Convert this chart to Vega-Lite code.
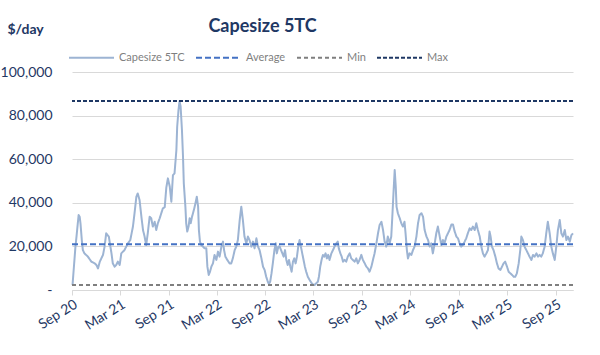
{
  "$schema": "https://vega.github.io/schema/vega-lite/v6.json",
  "width": 501,
  "height": 218,
  "autosize": "none",
  "padding": {"left": 72, "top": 72, "right": 27, "bottom": 65},
  "background": "white",
  "config": {"font": "Lato", "view": {"stroke": null}},
  "title": {"text": "Capesize 5TC", "fontSize": 18, "fontWeight": "bold", "color": "#1F3864", "anchor": "middle", "dx": -60, "offset": -14},
  "datasets": {
    "rates": [
      {"d":"2020-09-03","v":2300,"s":"Capesize 5TC"},{"d":"2020-09-14","v":19900,"s":"Capesize 5TC"},{"d":"2020-09-18","v":24500,"s":"Capesize 5TC"},{"d":"2020-09-26","v":34400,"s":"Capesize 5TC"},{"d":"2020-09-30","v":33600,"s":"Capesize 5TC"},{"d":"2020-10-03","v":30600,"s":"Capesize 5TC"},{"d":"2020-10-08","v":22900,"s":"Capesize 5TC"},{"d":"2020-10-12","v":18300,"s":"Capesize 5TC"},{"d":"2020-10-18","v":16800,"s":"Capesize 5TC"},{"d":"2020-10-31","v":15300,"s":"Capesize 5TC"},{"d":"2020-11-13","v":13000,"s":"Capesize 5TC"},{"d":"2020-11-26","v":12200,"s":"Capesize 5TC"},{"d":"2020-12-02","v":11500,"s":"Capesize 5TC"},{"d":"2020-12-08","v":9900,"s":"Capesize 5TC"},{"d":"2020-12-15","v":13000,"s":"Capesize 5TC"},{"d":"2020-12-27","v":16100,"s":"Capesize 5TC"},
      {"d":"2021-01-02","v":19900,"s":"Capesize 5TC"},{"d":"2021-01-08","v":26000,"s":"Capesize 5TC"},{"d":"2021-01-18","v":24500,"s":"Capesize 5TC"},{"d":"2021-01-24","v":19900,"s":"Capesize 5TC"},{"d":"2021-01-28","v":16800,"s":"Capesize 5TC"},{"d":"2021-02-02","v":12200,"s":"Capesize 5TC"},{"d":"2021-02-09","v":10700,"s":"Capesize 5TC"},{"d":"2021-02-15","v":11500,"s":"Capesize 5TC"},{"d":"2021-02-21","v":13000,"s":"Capesize 5TC"},{"d":"2021-02-28","v":11500,"s":"Capesize 5TC"},{"d":"2021-03-06","v":16800,"s":"Capesize 5TC"},{"d":"2021-03-18","v":18300,"s":"Capesize 5TC"},{"d":"2021-03-31","v":21400,"s":"Capesize 5TC"},{"d":"2021-04-09","v":22900,"s":"Capesize 5TC"},{"d":"2021-04-19","v":29100,"s":"Capesize 5TC"},{"d":"2021-04-25","v":35200,"s":"Capesize 5TC"},{"d":"2021-05-02","v":42800,"s":"Capesize 5TC"},{"d":"2021-05-07","v":44300,"s":"Capesize 5TC"},{"d":"2021-05-14","v":41300,"s":"Capesize 5TC"},{"d":"2021-05-21","v":33600,"s":"Capesize 5TC"},{"d":"2021-05-27","v":27500,"s":"Capesize 5TC"},{"d":"2021-06-02","v":24500,"s":"Capesize 5TC"},{"d":"2021-06-08","v":20600,"s":"Capesize 5TC"},{"d":"2021-06-14","v":26000,"s":"Capesize 5TC"},{"d":"2021-06-21","v":33600,"s":"Capesize 5TC"},{"d":"2021-06-27","v":32900,"s":"Capesize 5TC"},{"d":"2021-07-03","v":29100,"s":"Capesize 5TC"},{"d":"2021-07-10","v":31300,"s":"Capesize 5TC"},{"d":"2021-07-16","v":27500,"s":"Capesize 5TC"},{"d":"2021-07-22","v":30600,"s":"Capesize 5TC"},{"d":"2021-07-29","v":32900,"s":"Capesize 5TC"},{"d":"2021-08-04","v":35200,"s":"Capesize 5TC"},{"d":"2021-08-10","v":37500,"s":"Capesize 5TC"},{"d":"2021-08-17","v":38000,"s":"Capesize 5TC"},{"d":"2021-08-23","v":47000,"s":"Capesize 5TC"},{"d":"2021-08-29","v":51200,"s":"Capesize 5TC"},{"d":"2021-09-05","v":47400,"s":"Capesize 5TC"},{"d":"2021-09-11","v":40500,"s":"Capesize 5TC"},{"d":"2021-09-17","v":52700,"s":"Capesize 5TC"},{"d":"2021-09-23","v":53500,"s":"Capesize 5TC"},{"d":"2021-09-30","v":64200,"s":"Capesize 5TC"},{"d":"2021-10-03","v":74900,"s":"Capesize 5TC"},{"d":"2021-10-08","v":82600,"s":"Capesize 5TC"},{"d":"2021-10-12","v":86700,"s":"Capesize 5TC"},{"d":"2021-10-16","v":84100,"s":"Capesize 5TC"},{"d":"2021-10-21","v":73400,"s":"Capesize 5TC"},{"d":"2021-10-25","v":61200,"s":"Capesize 5TC"},{"d":"2021-10-28","v":48900,"s":"Capesize 5TC"},{"d":"2021-11-03","v":38200,"s":"Capesize 5TC"},{"d":"2021-11-06","v":30600,"s":"Capesize 5TC"},{"d":"2021-11-10","v":26800,"s":"Capesize 5TC"},{"d":"2021-11-15","v":29100,"s":"Capesize 5TC"},{"d":"2021-11-19","v":32900,"s":"Capesize 5TC"},{"d":"2021-11-23","v":30600,"s":"Capesize 5TC"},{"d":"2021-11-28","v":33600,"s":"Capesize 5TC"},{"d":"2021-12-05","v":36700,"s":"Capesize 5TC"},{"d":"2021-12-11","v":39800,"s":"Capesize 5TC"},{"d":"2021-12-16","v":42800,"s":"Capesize 5TC"},{"d":"2021-12-21","v":38200,"s":"Capesize 5TC"},{"d":"2021-12-24","v":27500,"s":"Capesize 5TC"},{"d":"2021-12-28","v":22200,"s":"Capesize 5TC"},
      {"d":"2022-01-02","v":20600,"s":"Capesize 5TC"},{"d":"2022-01-08","v":19900,"s":"Capesize 5TC"},{"d":"2022-01-15","v":19100,"s":"Capesize 5TC"},{"d":"2022-01-21","v":19100,"s":"Capesize 5TC"},{"d":"2022-01-25","v":10700,"s":"Capesize 5TC"},{"d":"2022-01-30","v":6900,"s":"Capesize 5TC"},{"d":"2022-02-04","v":8400,"s":"Capesize 5TC"},{"d":"2022-02-09","v":10700,"s":"Capesize 5TC"},{"d":"2022-02-15","v":12200,"s":"Capesize 5TC"},{"d":"2022-02-21","v":16100,"s":"Capesize 5TC"},{"d":"2022-02-28","v":13800,"s":"Capesize 5TC"},{"d":"2022-03-06","v":17600,"s":"Capesize 5TC"},{"d":"2022-03-12","v":15300,"s":"Capesize 5TC"},{"d":"2022-03-19","v":19900,"s":"Capesize 5TC"},{"d":"2022-03-25","v":22200,"s":"Capesize 5TC"},{"d":"2022-03-29","v":18300,"s":"Capesize 5TC"},{"d":"2022-04-03","v":15300,"s":"Capesize 5TC"},{"d":"2022-04-10","v":13800,"s":"Capesize 5TC"},{"d":"2022-04-19","v":12200,"s":"Capesize 5TC"},{"d":"2022-04-25","v":12200,"s":"Capesize 5TC"},{"d":"2022-05-01","v":14500,"s":"Capesize 5TC"},{"d":"2022-05-08","v":18300,"s":"Capesize 5TC"},{"d":"2022-05-14","v":19900,"s":"Capesize 5TC"},{"d":"2022-05-20","v":22900,"s":"Capesize 5TC"},{"d":"2022-05-27","v":32100,"s":"Capesize 5TC"},{"d":"2022-06-02","v":38200,"s":"Capesize 5TC"},{"d":"2022-06-08","v":32100,"s":"Capesize 5TC"},{"d":"2022-06-14","v":24500,"s":"Capesize 5TC"},{"d":"2022-06-21","v":21400,"s":"Capesize 5TC"},{"d":"2022-06-27","v":24500,"s":"Capesize 5TC"},{"d":"2022-07-03","v":22900,"s":"Capesize 5TC"},{"d":"2022-07-10","v":19900,"s":"Capesize 5TC"},{"d":"2022-07-16","v":22200,"s":"Capesize 5TC"},{"d":"2022-07-22","v":19100,"s":"Capesize 5TC"},{"d":"2022-07-29","v":23700,"s":"Capesize 5TC"},{"d":"2022-08-04","v":19900,"s":"Capesize 5TC"},{"d":"2022-08-10","v":18300,"s":"Capesize 5TC"},{"d":"2022-08-17","v":14500,"s":"Capesize 5TC"},{"d":"2022-08-23","v":10700,"s":"Capesize 5TC"},{"d":"2022-08-29","v":9200,"s":"Capesize 5TC"},{"d":"2022-09-04","v":6100,"s":"Capesize 5TC"},{"d":"2022-09-10","v":3800,"s":"Capesize 5TC"},{"d":"2022-09-14","v":2800,"s":"Capesize 5TC"},{"d":"2022-09-19","v":3800,"s":"Capesize 5TC"},{"d":"2022-09-24","v":7600,"s":"Capesize 5TC"},{"d":"2022-09-29","v":12200,"s":"Capesize 5TC"},{"d":"2022-10-05","v":18300,"s":"Capesize 5TC"},{"d":"2022-10-10","v":21400,"s":"Capesize 5TC"},{"d":"2022-10-14","v":16800,"s":"Capesize 5TC"},{"d":"2022-10-20","v":19900,"s":"Capesize 5TC"},{"d":"2022-10-25","v":19900,"s":"Capesize 5TC"},{"d":"2022-10-30","v":18300,"s":"Capesize 5TC"},{"d":"2022-11-04","v":16800,"s":"Capesize 5TC"},{"d":"2022-11-09","v":15300,"s":"Capesize 5TC"},{"d":"2022-11-14","v":18300,"s":"Capesize 5TC"},{"d":"2022-11-19","v":13800,"s":"Capesize 5TC"},{"d":"2022-11-24","v":11500,"s":"Capesize 5TC"},{"d":"2022-11-29","v":13800,"s":"Capesize 5TC"},{"d":"2022-12-04","v":10700,"s":"Capesize 5TC"},{"d":"2022-12-09","v":8400,"s":"Capesize 5TC"},{"d":"2022-12-14","v":13000,"s":"Capesize 5TC"},{"d":"2022-12-19","v":14500,"s":"Capesize 5TC"},{"d":"2022-12-24","v":12200,"s":"Capesize 5TC"},{"d":"2022-12-29","v":15300,"s":"Capesize 5TC"},
      {"d":"2023-01-03","v":19900,"s":"Capesize 5TC"},{"d":"2023-01-08","v":22900,"s":"Capesize 5TC"},{"d":"2023-01-13","v":19900,"s":"Capesize 5TC"},{"d":"2023-01-18","v":16800,"s":"Capesize 5TC"},{"d":"2023-01-23","v":13800,"s":"Capesize 5TC"},{"d":"2023-01-28","v":10700,"s":"Capesize 5TC"},{"d":"2023-02-02","v":8400,"s":"Capesize 5TC"},{"d":"2023-02-08","v":6100,"s":"Capesize 5TC"},{"d":"2023-02-15","v":4600,"s":"Capesize 5TC"},{"d":"2023-02-21","v":3400,"s":"Capesize 5TC"},{"d":"2023-02-27","v":2600,"s":"Capesize 5TC"},{"d":"2023-03-06","v":2300,"s":"Capesize 5TC"},{"d":"2023-03-12","v":3100,"s":"Capesize 5TC"},{"d":"2023-03-18","v":3800,"s":"Capesize 5TC"},{"d":"2023-03-22","v":6100,"s":"Capesize 5TC"},{"d":"2023-03-27","v":10700,"s":"Capesize 5TC"},{"d":"2023-04-01","v":13800,"s":"Capesize 5TC"},{"d":"2023-04-06","v":16100,"s":"Capesize 5TC"},{"d":"2023-04-11","v":15300,"s":"Capesize 5TC"},{"d":"2023-04-16","v":16800,"s":"Capesize 5TC"},{"d":"2023-04-21","v":14500,"s":"Capesize 5TC"},{"d":"2023-04-26","v":16100,"s":"Capesize 5TC"},{"d":"2023-05-01","v":13800,"s":"Capesize 5TC"},{"d":"2023-05-08","v":16800,"s":"Capesize 5TC"},{"d":"2023-05-14","v":18300,"s":"Capesize 5TC"},{"d":"2023-05-20","v":19900,"s":"Capesize 5TC"},{"d":"2023-05-27","v":21400,"s":"Capesize 5TC"},{"d":"2023-06-01","v":22200,"s":"Capesize 5TC"},{"d":"2023-06-05","v":19100,"s":"Capesize 5TC"},{"d":"2023-06-11","v":16800,"s":"Capesize 5TC"},{"d":"2023-06-16","v":15300,"s":"Capesize 5TC"},{"d":"2023-06-21","v":13000,"s":"Capesize 5TC"},{"d":"2023-06-27","v":13800,"s":"Capesize 5TC"},{"d":"2023-07-03","v":13000,"s":"Capesize 5TC"},{"d":"2023-07-09","v":15300,"s":"Capesize 5TC"},{"d":"2023-07-16","v":16800,"s":"Capesize 5TC"},{"d":"2023-07-22","v":14500,"s":"Capesize 5TC"},{"d":"2023-07-28","v":13800,"s":"Capesize 5TC"},{"d":"2023-08-04","v":13000,"s":"Capesize 5TC"},{"d":"2023-08-10","v":14500,"s":"Capesize 5TC"},{"d":"2023-08-16","v":12200,"s":"Capesize 5TC"},{"d":"2023-08-23","v":14000,"s":"Capesize 5TC"},{"d":"2023-08-29","v":16100,"s":"Capesize 5TC"},{"d":"2023-09-04","v":13800,"s":"Capesize 5TC"},{"d":"2023-09-11","v":12200,"s":"Capesize 5TC"},{"d":"2023-09-17","v":10700,"s":"Capesize 5TC"},{"d":"2023-09-23","v":9900,"s":"Capesize 5TC"},{"d":"2023-09-29","v":8400,"s":"Capesize 5TC"},{"d":"2023-10-06","v":10700,"s":"Capesize 5TC"},{"d":"2023-10-12","v":13800,"s":"Capesize 5TC"},{"d":"2023-10-18","v":16800,"s":"Capesize 5TC"},{"d":"2023-10-25","v":21400,"s":"Capesize 5TC"},{"d":"2023-10-31","v":26000,"s":"Capesize 5TC"},{"d":"2023-11-06","v":29800,"s":"Capesize 5TC"},{"d":"2023-11-13","v":31300,"s":"Capesize 5TC"},{"d":"2023-11-19","v":27500,"s":"Capesize 5TC"},{"d":"2023-11-25","v":22200,"s":"Capesize 5TC"},{"d":"2023-12-01","v":19900,"s":"Capesize 5TC"},{"d":"2023-12-07","v":24500,"s":"Capesize 5TC"},{"d":"2023-12-14","v":21400,"s":"Capesize 5TC"},{"d":"2023-12-20","v":24500,"s":"Capesize 5TC"},{"d":"2023-12-24","v":33600,"s":"Capesize 5TC"},{"d":"2023-12-29","v":45900,"s":"Capesize 5TC"},
      {"d":"2024-01-02","v":55000,"s":"Capesize 5TC"},{"d":"2024-01-06","v":47400,"s":"Capesize 5TC"},{"d":"2024-01-09","v":38200,"s":"Capesize 5TC"},{"d":"2024-01-14","v":35200,"s":"Capesize 5TC"},{"d":"2024-01-21","v":32900,"s":"Capesize 5TC"},{"d":"2024-01-27","v":30600,"s":"Capesize 5TC"},{"d":"2024-02-02","v":29100,"s":"Capesize 5TC"},{"d":"2024-02-08","v":31300,"s":"Capesize 5TC"},{"d":"2024-02-12","v":26000,"s":"Capesize 5TC"},{"d":"2024-02-17","v":18300,"s":"Capesize 5TC"},{"d":"2024-02-21","v":14500,"s":"Capesize 5TC"},{"d":"2024-02-27","v":16800,"s":"Capesize 5TC"},{"d":"2024-03-05","v":16100,"s":"Capesize 5TC"},{"d":"2024-03-11","v":18300,"s":"Capesize 5TC"},{"d":"2024-03-17","v":19900,"s":"Capesize 5TC"},{"d":"2024-03-24","v":24500,"s":"Capesize 5TC"},{"d":"2024-03-30","v":30600,"s":"Capesize 5TC"},{"d":"2024-04-05","v":34400,"s":"Capesize 5TC"},{"d":"2024-04-12","v":35200,"s":"Capesize 5TC"},{"d":"2024-04-18","v":33600,"s":"Capesize 5TC"},{"d":"2024-04-24","v":27500,"s":"Capesize 5TC"},{"d":"2024-05-01","v":24500,"s":"Capesize 5TC"},{"d":"2024-05-07","v":22900,"s":"Capesize 5TC"},{"d":"2024-05-13","v":19900,"s":"Capesize 5TC"},{"d":"2024-05-19","v":21400,"s":"Capesize 5TC"},{"d":"2024-05-25","v":16800,"s":"Capesize 5TC"},{"d":"2024-06-01","v":21400,"s":"Capesize 5TC"},{"d":"2024-06-07","v":26000,"s":"Capesize 5TC"},{"d":"2024-06-13","v":29100,"s":"Capesize 5TC"},{"d":"2024-06-20","v":24500,"s":"Capesize 5TC"},{"d":"2024-06-26","v":20600,"s":"Capesize 5TC"},{"d":"2024-07-02","v":22900,"s":"Capesize 5TC"},{"d":"2024-07-08","v":21400,"s":"Capesize 5TC"},{"d":"2024-07-15","v":24500,"s":"Capesize 5TC"},{"d":"2024-07-21","v":26000,"s":"Capesize 5TC"},{"d":"2024-07-27","v":27500,"s":"Capesize 5TC"},{"d":"2024-08-03","v":30000,"s":"Capesize 5TC"},{"d":"2024-08-09","v":30000,"s":"Capesize 5TC"},{"d":"2024-08-15","v":27000,"s":"Capesize 5TC"},{"d":"2024-08-22","v":24500,"s":"Capesize 5TC"},{"d":"2024-08-28","v":23700,"s":"Capesize 5TC"},{"d":"2024-09-03","v":21400,"s":"Capesize 5TC"},{"d":"2024-09-09","v":19900,"s":"Capesize 5TC"},{"d":"2024-09-15","v":20600,"s":"Capesize 5TC"},{"d":"2024-09-22","v":22200,"s":"Capesize 5TC"},{"d":"2024-09-28","v":23700,"s":"Capesize 5TC"},{"d":"2024-10-04","v":26000,"s":"Capesize 5TC"},{"d":"2024-10-11","v":28300,"s":"Capesize 5TC"},{"d":"2024-10-17","v":27500,"s":"Capesize 5TC"},{"d":"2024-10-23","v":29100,"s":"Capesize 5TC"},{"d":"2024-10-30","v":27500,"s":"Capesize 5TC"},{"d":"2024-11-05","v":30600,"s":"Capesize 5TC"},{"d":"2024-11-11","v":27500,"s":"Capesize 5TC"},{"d":"2024-11-18","v":24500,"s":"Capesize 5TC"},{"d":"2024-11-24","v":19900,"s":"Capesize 5TC"},{"d":"2024-11-30","v":16800,"s":"Capesize 5TC"},{"d":"2024-12-06","v":15300,"s":"Capesize 5TC"},{"d":"2024-12-13","v":16800,"s":"Capesize 5TC"},{"d":"2024-12-19","v":18300,"s":"Capesize 5TC"},{"d":"2024-12-25","v":26800,"s":"Capesize 5TC"},{"d":"2024-12-29","v":24500,"s":"Capesize 5TC"},
      {"d":"2025-01-03","v":19900,"s":"Capesize 5TC"},{"d":"2025-01-09","v":18300,"s":"Capesize 5TC"},{"d":"2025-01-16","v":15300,"s":"Capesize 5TC"},{"d":"2025-01-22","v":12200,"s":"Capesize 5TC"},{"d":"2025-01-28","v":9900,"s":"Capesize 5TC"},{"d":"2025-02-04","v":9200,"s":"Capesize 5TC"},{"d":"2025-02-10","v":10700,"s":"Capesize 5TC"},{"d":"2025-02-16","v":12200,"s":"Capesize 5TC"},{"d":"2025-02-22","v":13000,"s":"Capesize 5TC"},{"d":"2025-03-01","v":10700,"s":"Capesize 5TC"},{"d":"2025-03-07","v":8400,"s":"Capesize 5TC"},{"d":"2025-03-14","v":7600,"s":"Capesize 5TC"},{"d":"2025-03-20","v":6900,"s":"Capesize 5TC"},{"d":"2025-03-26","v":6100,"s":"Capesize 5TC"},{"d":"2025-04-01","v":6100,"s":"Capesize 5TC"},{"d":"2025-04-07","v":7600,"s":"Capesize 5TC"},{"d":"2025-04-14","v":12200,"s":"Capesize 5TC"},{"d":"2025-04-20","v":18300,"s":"Capesize 5TC"},{"d":"2025-04-24","v":24500,"s":"Capesize 5TC"},{"d":"2025-04-30","v":22900,"s":"Capesize 5TC"},{"d":"2025-05-06","v":19900,"s":"Capesize 5TC"},{"d":"2025-05-13","v":18300,"s":"Capesize 5TC"},{"d":"2025-05-19","v":16800,"s":"Capesize 5TC"},{"d":"2025-05-25","v":15300,"s":"Capesize 5TC"},{"d":"2025-06-01","v":13800,"s":"Capesize 5TC"},{"d":"2025-06-07","v":16100,"s":"Capesize 5TC"},{"d":"2025-06-13","v":15300,"s":"Capesize 5TC"},{"d":"2025-06-20","v":16800,"s":"Capesize 5TC"},{"d":"2025-06-26","v":15300,"s":"Capesize 5TC"},{"d":"2025-07-02","v":16100,"s":"Capesize 5TC"},{"d":"2025-07-08","v":15300,"s":"Capesize 5TC"},{"d":"2025-07-14","v":16800,"s":"Capesize 5TC"},{"d":"2025-07-21","v":19900,"s":"Capesize 5TC"},{"d":"2025-07-27","v":26000,"s":"Capesize 5TC"},{"d":"2025-08-02","v":31300,"s":"Capesize 5TC"},{"d":"2025-08-09","v":26000,"s":"Capesize 5TC"},{"d":"2025-08-15","v":19900,"s":"Capesize 5TC"},{"d":"2025-08-21","v":16800,"s":"Capesize 5TC"},{"d":"2025-08-28","v":13800,"s":"Capesize 5TC"},{"d":"2025-09-03","v":19900,"s":"Capesize 5TC"},{"d":"2025-09-09","v":27500,"s":"Capesize 5TC"},{"d":"2025-09-16","v":32100,"s":"Capesize 5TC"},{"d":"2025-09-22","v":26000,"s":"Capesize 5TC"},{"d":"2025-09-28","v":24500,"s":"Capesize 5TC"},{"d":"2025-10-05","v":27500,"s":"Capesize 5TC"},{"d":"2025-10-11","v":22900,"s":"Capesize 5TC"},{"d":"2025-10-17","v":24500,"s":"Capesize 5TC"},{"d":"2025-10-24","v":22200,"s":"Capesize 5TC"},{"d":"2025-10-30","v":25200,"s":"Capesize 5TC"},{"d":"2025-11-05","v":26000,"s":"Capesize 5TC"}
    ],
    "refs": [
      {"s": "Average", "v": 20960},
      {"s": "Min", "v": 2300},
      {"s": "Max", "v": 86700}
    ]
  },
  "layer": [
    {
      "data": {"name": "rates"},
      "mark": {"type": "line", "strokeWidth": 2, "strokeJoin": "round"},
      "encoding": {
        "x": {
          "field": "d", "type": "temporal",
          "scale": {"type": "utc", "domain": [{"year": 2020, "month": 9, "date": 1, "utc": true}, {"year": 2025, "month": 11, "date": 5, "utc": true}]},
          "axis": {
            "title": null,
            "values": [
              {"year": 2020, "month": 9, "date": 1, "utc": true},
              {"year": 2021, "month": 3, "date": 1, "utc": true},
              {"year": 2021, "month": 9, "date": 1, "utc": true},
              {"year": 2022, "month": 3, "date": 1, "utc": true},
              {"year": 2022, "month": 9, "date": 1, "utc": true},
              {"year": 2023, "month": 3, "date": 1, "utc": true},
              {"year": 2023, "month": 9, "date": 1, "utc": true},
              {"year": 2024, "month": 3, "date": 1, "utc": true},
              {"year": 2024, "month": 9, "date": 1, "utc": true},
              {"year": 2025, "month": 3, "date": 1, "utc": true},
              {"year": 2025, "month": 9, "date": 1, "utc": true}
            ],
            "format": "%b %y",
            "labelAngle": -32,
            "labelAlign": "right",
            "labelBaseline": "top",
            "labelFont": "Lato",
            "labelFontSize": 14,
            "labelColor": "#1F3864",
            "labelPadding": 2,
            "labelOverlap": false,
            "labelFlush": false,
            "grid": false,
            "tickColor": "#D9D9D9",
            "tickSize": 5,
            "domainColor": "#D9D9D9",
            "domainWidth": 1
          }
        },
        "y": {
          "field": "v", "type": "quantitative",
          "scale": {"domain": [0, 100000]},
          "axis": {
            "values": [0, 20000, 40000, 60000, 80000, 100000],
            "labelExpr": "datum.value === 0 ? '-' : format(datum.value, ',')",
            "labelFont": "Lato",
            "labelFontSize": 14,
            "labelColor": "#1F3864",
            "labelPadding": 20,
            "ticks": false,
            "domain": false,
            "gridColor": "#D9D9D9",
            "gridWidth": 1,
            "title": "$/day",
            "titleAngle": 0,
            "titleX": -65,
            "titleY": -43,
            "titleAlign": "left",
            "titleBaseline": "middle",
            "titleFont": "Lato",
            "titleFontSize": 14,
            "titleFontWeight": "bold",
            "titleColor": "#1F3864"
          }
        },
        "color": {
          "field": "s", "type": "nominal",
          "scale": {"domain": ["Capesize 5TC", "Average", "Min", "Max"], "range": ["#9DB4D3", "#4472C4", "#7F7F7F", "#1F3864"]},
          "legend": {"title": null, "orient": "none", "legendX": -4, "legendY": -38, "direction": "horizontal", "symbolType": "stroke", "symbolSize": 2025, "symbolStrokeWidth": 2, "labelFont": "Lato", "labelFontSize": 11, "labelColor": "#7F7F7F", "labelOffset": 4, "columnPadding": 7, "padding": 0}
        },
        "strokeDash": {
          "field": "s", "type": "nominal",
          "scale": {"domain": ["Capesize 5TC", "Average", "Min", "Max"], "range": [[1, 0], [6, 3], [4, 3], [4, 2]]},
          "legend": {"title": null, "orient": "none", "legendX": -4, "legendY": -38, "direction": "horizontal", "symbolType": "stroke", "symbolSize": 2025, "symbolStrokeWidth": 2, "labelFont": "Lato", "labelFontSize": 11, "labelColor": "#7F7F7F", "labelOffset": 4, "columnPadding": 7, "padding": 0}
        }
      }
    },
    {
      "data": {"name": "refs"},
      "mark": {"type": "rule", "strokeWidth": 2},
      "encoding": {
        "y": {"field": "v", "type": "quantitative"},
        "color": {"field": "s", "type": "nominal"},
        "strokeDash": {"field": "s", "type": "nominal"}
      }
    }
  ]
}
